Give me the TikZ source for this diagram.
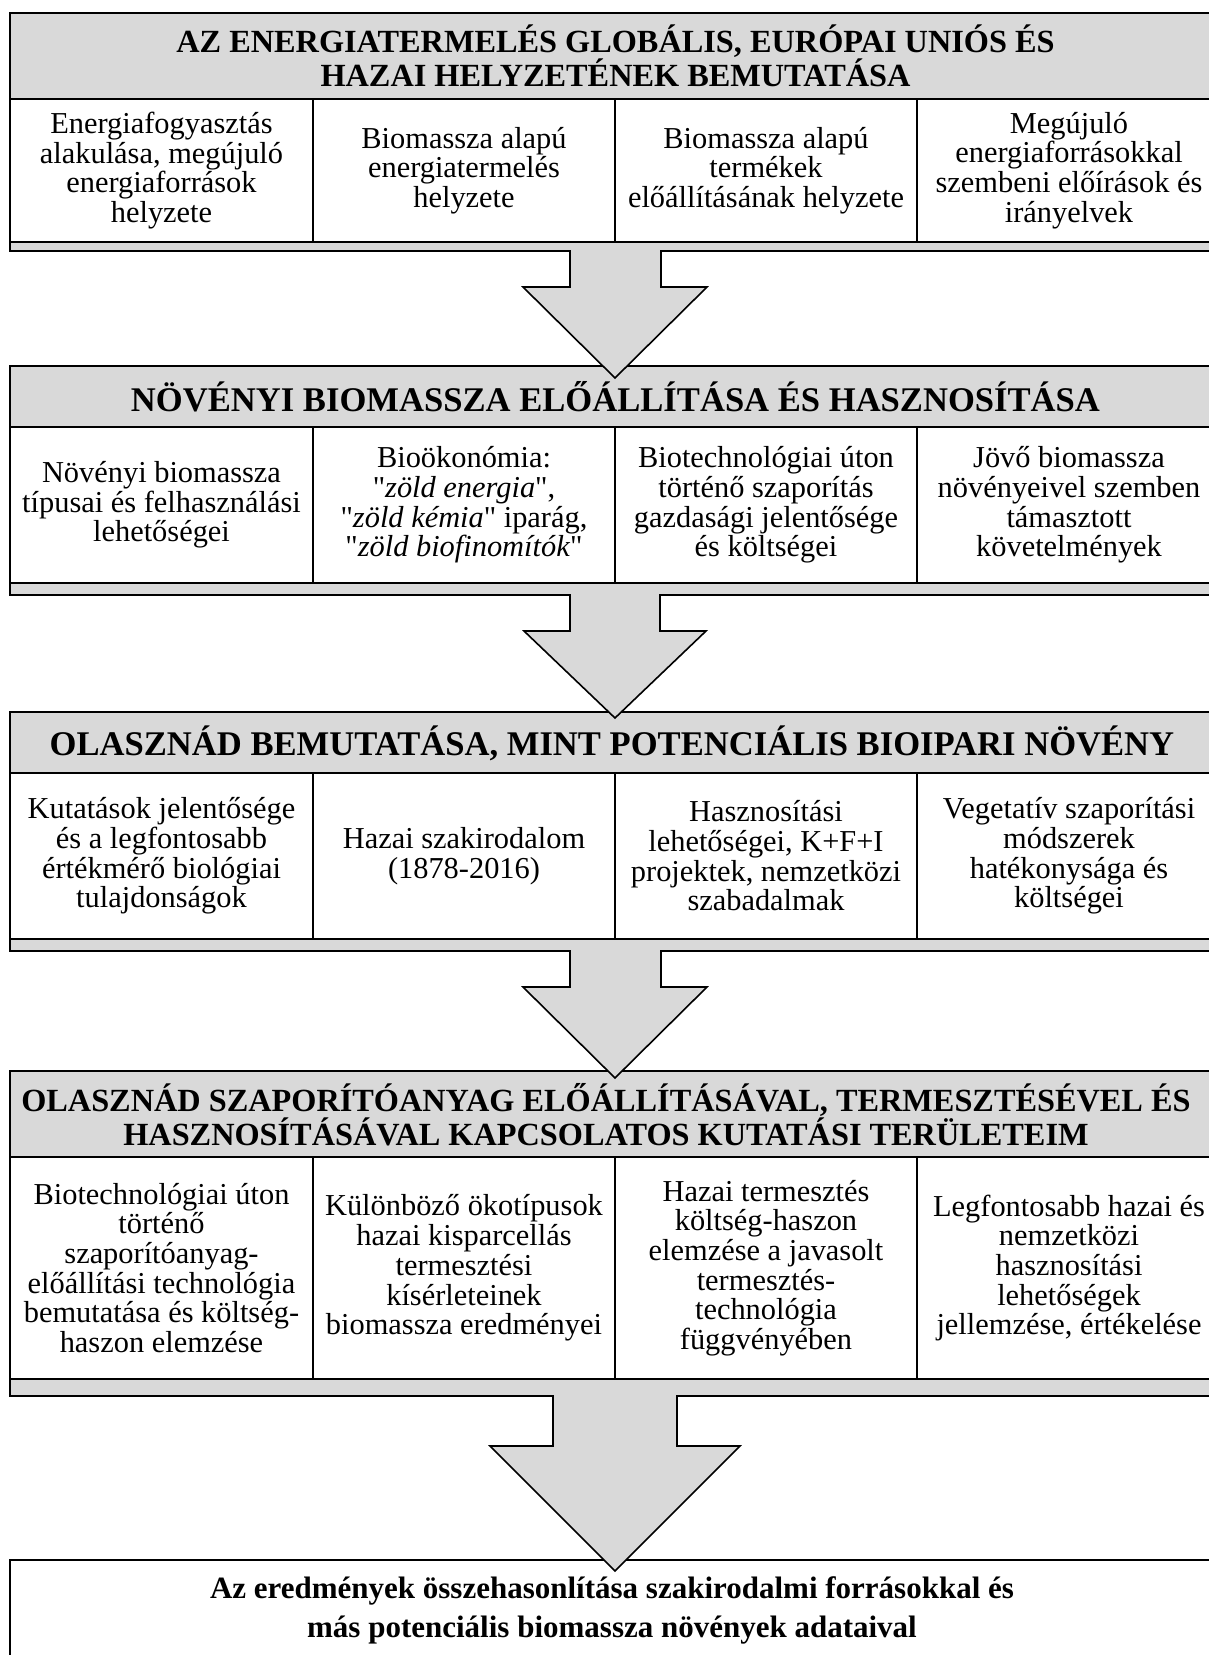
\documentclass[tikz,border=0pt]{standalone}
\usepackage{fontspec}
\setmainfont{Liberation Serif}[Ligatures=TeXOff]
\definecolor{boxgray}{RGB}{217,217,217}

\begin{document}
\begin{tikzpicture}[x=1pt,y=-1pt,line width=1.6pt,
    head/.style={font=\bfseries\fontsize{32.3}{30}\selectfont, align=center},
    bighead/.style={font=\bfseries\fontsize{34.6}{30}\selectfont, align=center},
    cell/.style={font=\fontsize{30.4}{29.7}\selectfont, align=center},
    final/.style={font=\bfseries\fontsize{31}{35}\selectfont, anchor=base},
    bigarrow/.style={fill=boxgray, draw=black, line join=miter}]

        \clip (0,0) rectangle (1209,1655);

        % Block 1
        \draw[fill=boxgray] (10,13) rectangle (1221,99);
        \draw (10,99) rectangle (1221,242);
        \draw[line width=1.3pt] (313,99) -- (313,242) (615,99) -- (615,242) (917,99) -- (917,242);

        % Block 2
        \draw[fill=boxgray] (10,366) rectangle (1221,427);
        \draw (10,427) rectangle (1221,583);
        \draw[line width=1.3pt] (313,427) -- (313,583) (615,427) -- (615,583) (917,427) -- (917,583);

        % Block 3
        \draw[fill=boxgray] (10,712) rectangle (1221,773);
        \draw (10,773) rectangle (1221,939);
        \draw[line width=1.3pt] (313,773) -- (313,939) (615,773) -- (615,939) (917,773) -- (917,939);

        % Block 4
        \draw[fill=boxgray] (10,1071) rectangle (1221,1157);
        \draw (10,1157) rectangle (1221,1379);
        \draw[line width=1.3pt] (313,1157) -- (313,1379) (615,1157) -- (615,1379) (917,1157) -- (917,1379);

        % Final box
        \draw (10,1560) rectangle (1221,1700);

        % Grey strips with the arrows, drawn over the next box
        \draw[bigarrow] (10,242) -- (1221,242) -- (1221,251) -- (661,251) -- (661,287) -- (707,287)
            -- (615,378) -- (523,287) -- (570,287) -- (570,251) -- (10,251) -- cycle;
        \draw[bigarrow] (10,583) -- (1221,583) -- (1221,595) -- (660,595) -- (660,631) -- (706,631)
            -- (615,718) -- (524,631) -- (570,631) -- (570,595) -- (10,595) -- cycle;
        \draw[bigarrow] (10,939) -- (1221,939) -- (1221,951) -- (661,951) -- (661,987) -- (707,987)
            -- (615,1078) -- (523,987) -- (570,987) -- (570,951) -- (10,951) -- cycle;
        \draw[bigarrow] (10,1379) -- (1221,1379) -- (1221,1396) -- (677,1396) -- (677,1446) -- (740,1446)
            -- (615,1571) -- (490,1446) -- (553,1446) -- (553,1396) -- (10,1396) -- cycle;

        % Headers
        \node[head] (h1) at (615.5,56) {AZ ENERGIATERMELÉS GLOBÁLIS, EURÓPAI UNIÓS ÉS\\HAZAI HELYZETÉNEK BEMUTATÁSA};
        \node[bighead] (h2) at (615.5,397) {NÖVÉNYI BIOMASSZA ELŐÁLLÍTÁSA ÉS HASZNOSÍTÁSA};
        \node[bighead] (h3) at (612,743) {OLASZNÁD BEMUTATÁSA, MINT POTENCIÁLIS BIOIPARI NÖVÉNY};
        \node[head, font=\bfseries\fontsize{32.3}{31}\selectfont] (h4) at (606,1115) {OLASZNÁD SZAPORÍTÓANYAG ELŐÁLLÍTÁSÁVAL, TERMESZTÉSÉVEL ÉS\\HASZNOSÍTÁSÁVAL KAPCSOLATOS KUTATÁSI TERÜLETEIM};

        % Cells of block 1
        \node[cell] (c11) at (161.5,170.5) {Energiafogyasztás\\alakulása, megújuló\\energiaforrások\\helyzete};
        \node[cell] (c12) at (464,170.5) {Biomassza alapú\\energiatermelés\\helyzete};
        \node[cell] (c13) at (766,170.5) {Biomassza alapú\\termékek\\előállításának helyzete};
        \node[cell] (c14) at (1069,170.5) {Megújuló\\energiaforrásokkal\\szembeni előírások és\\irányelvek};

        % Cells of block 2
        \node[cell] (c21) at (161.5,505) {Növényi biomassza\\típusai és felhasználási\\lehetőségei};
        \node[cell] (c22) at (464,505) {Bioökonómia:\\"\textit{zöld energia}",\\"\textit{zöld kémia}" iparág,\\"\textit{zöld biofinomítók}"};
        \node[cell] (c23) at (766,505) {Biotechnológiai úton\\történő szaporítás\\gazdasági jelentősége\\és költségei};
        \node[cell] (c24) at (1069,505) {Jövő biomassza\\növényeivel szemben\\támasztott\\követelmények};

        % Cells of block 3
        \node[cell] (c31) at (161.5,856) {Kutatások jelentősége\\és a legfontosabb\\értékmérő biológiai\\tulajdonságok};
        \node[cell] (c32) at (464,856) {Hazai szakirodalom\\(1878-2016)};
        \node[cell] (c33) at (766,856) {Hasznosítási\\lehetőségei, K+F+I\\projektek, nemzetközi\\szabadalmak};
        \node[cell] (c34) at (1069,856) {Vegetatív szaporítási\\módszerek\\hatékonysága és\\költségei};

        % Cells of block 4
        \node[cell] (c41) at (161.5,1268) {Biotechnológiai úton\\történő\\szaporítóanyag-\\előállítási technológia\\bemutatása és költség-\\haszon elemzése};
        \node[cell] (c42) at (464,1268) {Különböző ökotípusok\\hazai kisparcellás\\termesztési\\kísérleteinek\\biomassza eredményei};
        \node[cell] (c43) at (766,1268) {Hazai termesztés\\költség-haszon\\elemzése a javasolt\\termesztés-\\technológia\\függvényében};
        \node[cell] (c44) at (1069,1268) {Legfontosabb hazai és\\nemzetközi\\hasznosítási\\lehetőségek\\jellemzése, értékelése};

        % Final conclusion
        \node[final] (f1) at (612,1598) {Az eredmények összehasonlítása szakirodalmi forrásokkal és};
        \node[final] (f2) at (612,1637) {más potenciális biomassza növények adataival};

    \end{tikzpicture}
\end{document}
